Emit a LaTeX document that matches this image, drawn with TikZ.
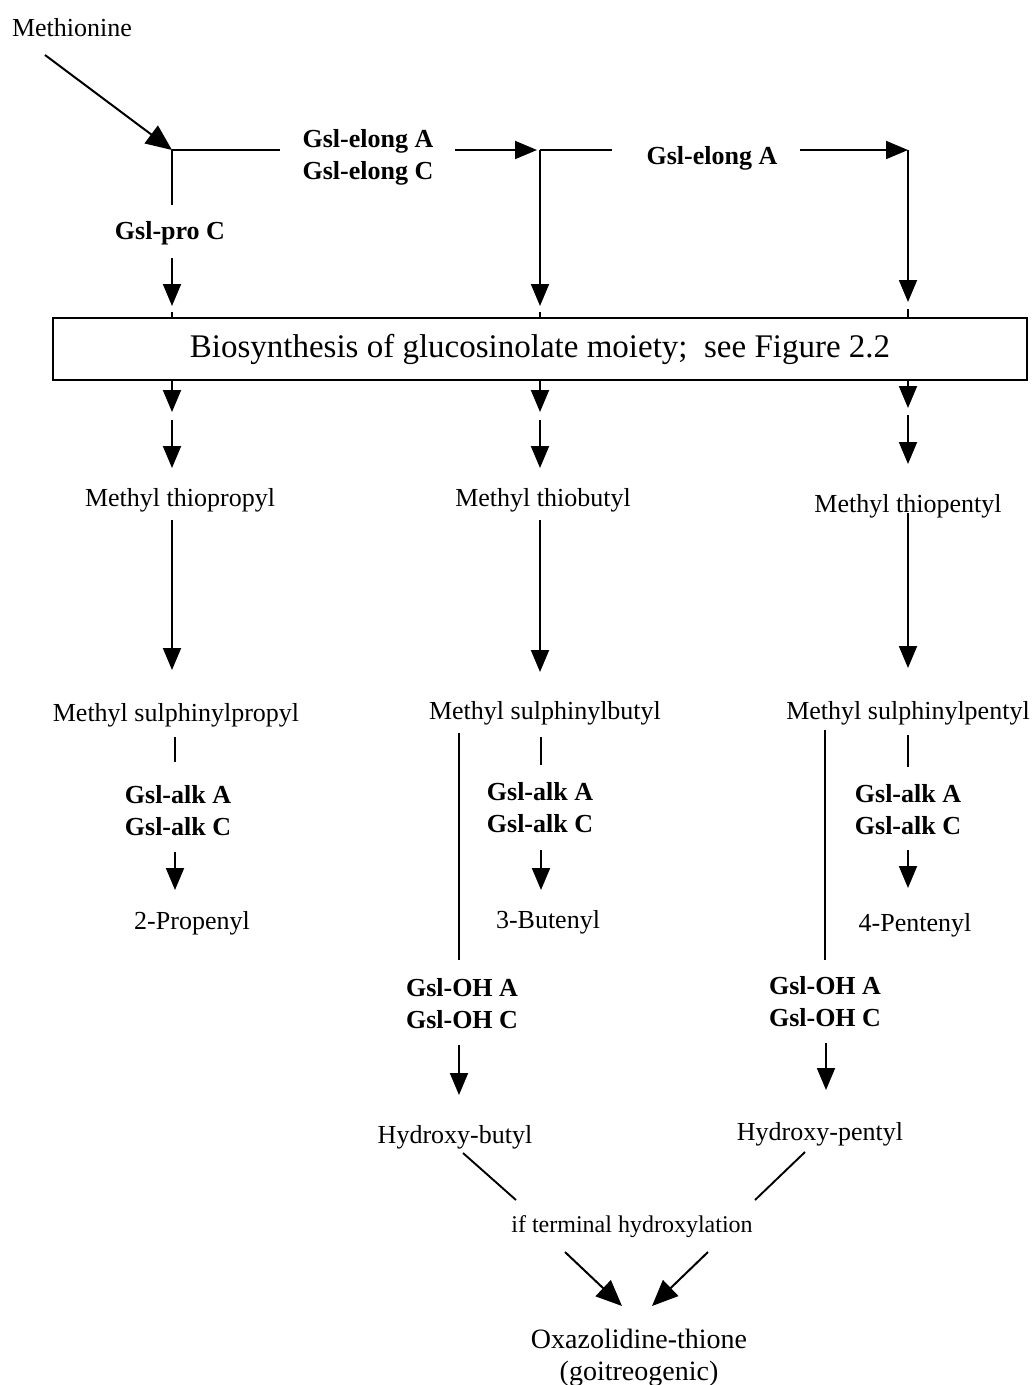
\documentclass[tikz,border=0pt]{standalone}
\usepackage{fontspec}
\setmainfont{Liberation Serif}
\usetikzlibrary{arrows.meta, positioning}

\tikzset{
  chem/.style={inner sep=0pt, font=\fontsize{26}{28}\selectfont},
  gene/.style={inner sep=0pt, align=center, font=\fontsize{26}{32}\selectfont\bfseries},
  link/.style={line width=1.9pt},
  flow/.style={line width=1.9pt, -{Triangle[length=22pt,width=18pt]}},
  bigflow/.style={line width=2pt, -{Triangle[length=26pt,width=22pt]}},
}

\begin{document}
\begin{tikzpicture}[x=1pt, y=-1pt]
\useasboundingbox (0,0) rectangle (1035,1385);

% starting amino acid and the three chain-length junctions
\node[chem] (meth) at (72,28) {Methionine};
\coordinate (m0) at (45,55);
\coordinate (j1) at (172,150);
\coordinate (j2) at (540,150);
\coordinate (j3) at (908,150);
\draw[bigflow] (m0) -- (j1);

% elongation steps
\node[gene] (elongAC) at (368,157) {Gsl-elong A\\Gsl-elong C};
\node[gene] (elongA) at (712,158) {Gsl-elong A};
\draw[link] (j1) -- (280,150);
\draw[flow] (455,150) -- ([xshift=-3pt]j2);
\draw[link] (j2) -- (612,150);
\draw[flow] (800,150) -- (j3);
\node[gene] (pro) at (170,233) {Gsl-pro C};

% glucosinolate core box
\node[draw, line width=1.9pt, minimum width=974pt, minimum height=62pt, inner sep=0pt,
      font=\fontsize{33}{36}\selectfont] (bio) at (540,349)
      {Biosynthesis of glucosinolate moiety;\ \ see Figure 2.2};

% into the box
\draw[link] (j1) -- (172,205);
\draw[flow] (172,258) -- (172,306);
\draw[flow] (j2) -- (540,306);
\draw[flow] (j3) -- (908,302);
\draw[link] (172,312) -- (bio.north -| j1);
\draw[link] (540,312) -- (bio.north -| j2);
\draw[link] (908,309) -- (bio.north -| j3);

% out of the box
\draw[flow] (bio.south -| j1) -- (172,412);
\draw[flow] (bio.south -| j2) -- (540,412);
\draw[flow] (bio.south -| j3) -- (908,408);
\draw[flow] (172,420) -- (172,468);
\draw[flow] (540,420) -- (540,468);
\draw[flow] (908,415) -- (908,464);

% methylthioalkyls
\node[chem] (thpro) at (180,500) {Methyl thiopropyl};
\node[chem] (thbut) at (543,500) {Methyl thiobutyl};
\node[chem] (thpen) at (908,506) {Methyl thiopentyl};
\draw[flow] (172,520) -- (172,670);
\draw[flow] (540,520) -- (540,672);
\draw[flow] (908,513) -- (908,668);

% methylsulphinylalkyls
\node[chem] (sulpro) at (176,715) {Methyl sulphinylpropyl};
\node[chem] (sulbut) at (545,713) {Methyl sulphinylbutyl};
\node[chem] (sulpen) at (908,713) {Methyl sulphinylpentyl};

% alkenyl branch
\node[gene] (alk1) at (178,811) {Gsl-alk A\\Gsl-alk C};
\node[gene] (alk2) at (540,808) {Gsl-alk A\\Gsl-alk C};
\node[gene] (alk3) at (908,810) {Gsl-alk A\\Gsl-alk C};
\draw[link] (175,737) -- (175,762);
\draw[link] (541,737) -- (541,765);
\draw[link] (908,735) -- (908,767);
\draw[flow] (175,852) -- (175,890);
\draw[flow] (541,850) -- (541,890);
\draw[flow] (908,850) -- (908,888);
\node[chem] (prop) at (192,923) {2-Propenyl};
\node[chem] (but) at (548,922) {3-Butenyl};
\node[chem] (pent) at (915,925) {4-Pentenyl};

% hydroxy branch
\draw[link] (459,733) -- (459,960);
\draw[link] (825,730) -- (825,960);
\node[gene] (oh1) at (462,1004) {Gsl-OH A\\Gsl-OH C};
\node[gene] (oh2) at (825,1002) {Gsl-OH A\\Gsl-OH C};
\draw[flow] (459,1045) -- (459,1095);
\draw[flow] (826,1043) -- (826,1090);
\node[chem] (hbut) at (455,1137) {Hydroxy-butyl};
\node[chem] (hpen) at (820,1134) {Hydroxy-pentyl};

% goitrogen
\node[chem, font=\fontsize{24}{26}\selectfont] (term) at (632,1227) {if terminal hydroxylation};
\draw[link] (463,1153) -- (516,1200);
\draw[link] (805,1152) -- (755,1200);
\node[chem, align=center, font=\fontsize{28}{32}\selectfont] (oxa) at (639,1358)
     {Oxazolidine-thione\\(goitreogenic)};
\draw[bigflow] (565,1252) -- (622,1306);
\draw[bigflow] (708,1252) -- (652,1306);
\end{tikzpicture}
\end{document}
